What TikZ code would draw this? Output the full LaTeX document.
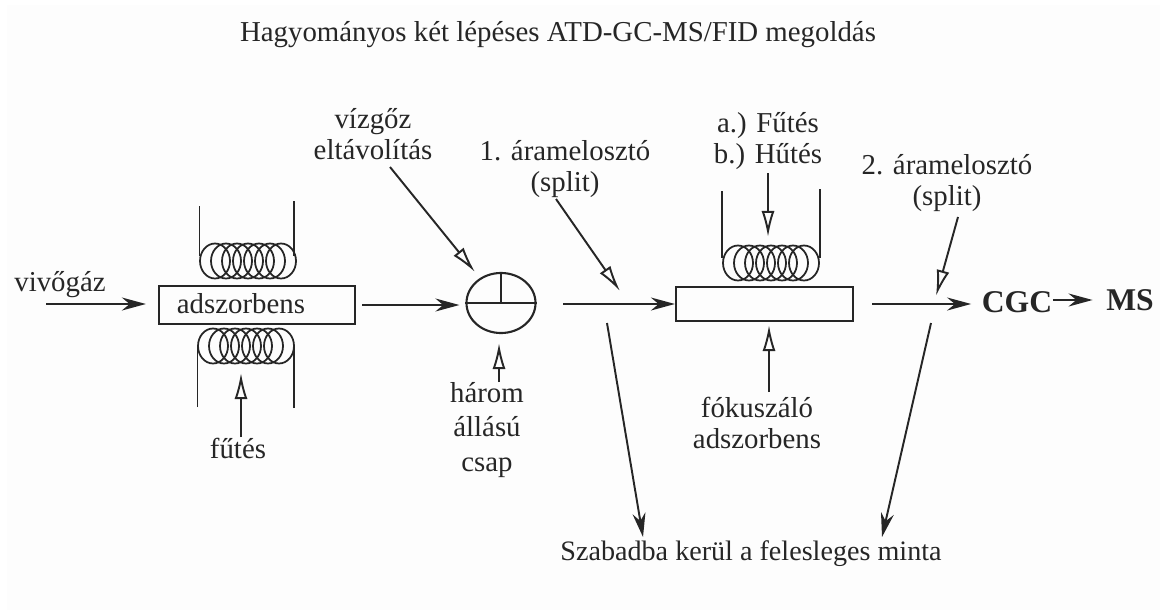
\documentclass[tikz,border=0pt]{standalone}
\usepackage{fontspec}
\setmainfont{Liberation Serif}
\usetikzlibrary{arrows.meta,shapes.geometric}
\tikzset{
    label text/.style={inner sep=0pt, align=center, text=black!85, font=\fontsize{8.2}{8.8}\selectfont},
    bold text/.style={inner sep=0pt, text=black!85, font=\fontsize{9}{10}\selectfont\bfseries},
    solid arrow/.style={-{Stealth[length=2.4mm,width=1.3mm]}, draw=black!85, line width=0.55pt},
    open arrow/.style={-{Latex[open,length=2.6mm,width=1.3mm]}, draw=black!85, line width=0.55pt},
    coil lead/.style={draw=black!85, line width=0.55pt},
    coil loop/.style={draw=black!85, line width=0.5pt},
    tube box/.style={draw=black!85, line width=0.6pt, inner sep=0pt}
}
\newcommand{\coilat}[2]{%
    \foreach \i in {0,...,6} {
        \draw[coil loop] (#1-33+\i*11, #2) ellipse (15 and 17.5);
    }
}
\begin{document}
\begin{tikzpicture}[x=0.01cm, y=-0.01cm]
    \useasboundingbox (0,0) rectangle (1167,615);
    \fill[black!0.7] (7,5) rectangle (1160,610);
    % cim
    \node[label text] (title) at (558, 35) {Hagyományos két lépéses ATD-GC-MS/FID megoldás};

    % bal oldal: adszorbens
    \node[label text] (carrier) at (60, 285) {vivőgáz};
    \coordinate (carrierin) at (46, 304);
    \node[tube box, minimum width=1.96cm, minimum height=0.38cm] (trap) at (257, 305) {};
    \node[label text] (trapname) at (241, 304) {adszorbens};
    \draw[solid arrow, shorten >=0.12cm] (carrierin) -- (carrierin -| trap.west);

    \coilat{248}{261}
    \coordinate (ltopa) at (199.5, 206);
    \coordinate (ltopb) at (294, 201);
    \draw[coil lead] (ltopa) -- (199.5, 256);
    \draw[coil lead] (ltopb) -- (294, 256);
    \coilat{246}{346}
    \coordinate (lbota) at (197.5, 407);
    \coordinate (lbotb) at (294, 408);
    \draw[coil lead] (lbota) -- (197.5, 345);
    \draw[coil lead] (lbotb) -- (294, 345);
    \node[label text] (heat) at (238, 448) {fűtés};
    \coordinate (heatend) at (241, 373);
    \draw[open arrow] (heat.north -| heatend) -- (heatend);

    % csap
    \node[draw=black!85, ellipse, line width=0.6pt, minimum width=0.69cm, minimum height=0.6cm, inner sep=0pt] (valve) at (501, 303) {};
    \draw[draw=black!85, line width=0.6pt] (valve.west) -- (valve.east);
    \draw[draw=black!85, line width=0.6pt] (valve.center) -- (valve.north);
    \draw[solid arrow, shorten <=0.06cm, shorten >=0.06cm] (trap.east) -- (trap.east -| valve.west);
    \node[label text] (steam) at (373, 134) {vízgőz\\eltávolítás};
    \coordinate (steamend) at (475, 272);
    \draw[open arrow] (390, 167) -- (steamend);
    \node[label text] (tap) at (487, 430) {három\\[0.4mm]állású\\[0.4mm]csap};
    \coordinate (tapend) at (499, 343);
    \draw[open arrow] (499, 382) -- (tapend);

    % elso aramoszto
    \node[label text] (split1) at (565, 169) {1. áramelosztó\\(split)};
    \coordinate (split1end) at (620, 291);
    \draw[open arrow] (556, 199) -- (split1end);

    % fokuszalo
    \node[tube box, minimum width=1.77cm, minimum height=0.34cm] (focus) at (764.5, 304) {};
    \draw[solid arrow] (563, 304) -- (focus.west);
    \coilat{771}{263}
    \coordinate (rtopa) at (722, 191);
    \coordinate (rtopb) at (820, 189);
    \draw[coil lead] (rtopa) -- (722, 258);
    \draw[coil lead] (rtopb) -- (820, 258);
    \node[label text] (thermal) at (768, 141) {a.) Fűtés\\b.) Hűtés};
    \coordinate (thermalend) at (768, 237);
    \draw[open arrow] (768, 173) -- (thermalend);
    \node[label text] (focustxt) at (757, 423) {fókuszáló\\adszorbens};
    \coordinate (focusend) at (769, 325);
    \draw[open arrow] (769, 392) -- (focusend);

    % masodik aramoszto es detektor
    \node[bold text] (cgc) at (1017, 302) {CGC};
    \node[bold text] (ms) at (1130, 300) {MS};
    \draw[solid arrow, shorten <=0.18cm, shorten >=0.1cm] (focus.east) -- (focus.east -| cgc.west);
    \draw[solid arrow, shorten >=0.13cm] (cgc.east |- ms.west) -- (ms.west);
    \node[label text] (split2) at (947, 183) {2. áramelosztó\\(split)};
    \coordinate (split2end) at (936, 296);
    \draw[open arrow] (958, 217) -- (split2end);

    % kiszellozes
    \node[label text, font=\fontsize{8}{8.8}\selectfont] (vent) at (751, 554) {Szabadba kerül a felesleges minta};
    \coordinate (venta) at (643, 537);
    \coordinate (ventb) at (882, 537);
    \draw[solid arrow] (607, 323) -- (venta);
    \draw[solid arrow] (931, 323) -- (ventb);
\end{tikzpicture}
\end{document}
